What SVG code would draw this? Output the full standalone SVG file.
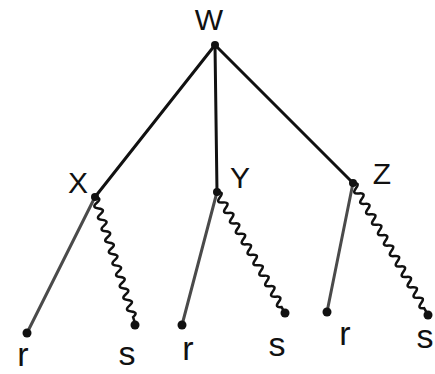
<svg xmlns="http://www.w3.org/2000/svg" width="435" height="374" viewBox="0 0 435 374">
<style>
.edge{stroke:#111;stroke-width:3;fill:none;stroke-linecap:round}
.grey{stroke:#4a4a4a;stroke-width:3;fill:none;stroke-linecap:round}
.wave{stroke:#111;stroke-width:2.5;fill:none;stroke-linecap:round}
.dot{fill:#111}
.lbl{font-family:"Liberation Sans",Arial,sans-serif;font-size:30px;fill:#111;text-anchor:middle;dominant-baseline:central}
.lc{font-size:34px}
</style>
<rect width="435" height="374" fill="#fff"/>
<g id="connectors">
<line class="edge" x1="215" y1="45" x2="95" y2="197"/>
<line class="edge" x1="215" y1="45" x2="217" y2="192"/>
<line class="edge" x1="215" y1="45" x2="353" y2="183"/>
<line class="grey" x1="95" y1="197" x2="27" y2="333"/>
<line class="grey" x1="217" y1="192" x2="182" y2="325"/>
<line class="grey" x1="353" y1="183" x2="327" y2="312"/>
<path class="wave" transform="translate(95,197) rotate(72.4)" d="M0,0 q3,-7 6,0 t6,0 t6,0 t6,0 t6,0 t6,0 t6,0 t6,0 t6,0 t6,0 t6,0 t6,0 t6,0 t6,0 t6,0 t6,0 t6,0 t6,0 t6,0 t6,0 t6,0 l6,0"/>
<path class="wave" transform="translate(217,192) rotate(60.7)" d="M0,0 q3,-7 6,0 t6,0 t6,0 t6,0 t6,0 t6,0 t6,0 t6,0 t6,0 t6,0 t6,0 t6,0 t6,0 t6,0 t6,0 t6,0 t6,0 t6,0 t6,0 t6,0 t6,0 t6,0 l6.8,0"/>
<path class="wave" transform="translate(353,183) rotate(60.4)" d="M0,0 q3,-7 6,0 t6,0 t6,0 t6,0 t6,0 t6,0 t6,0 t6,0 t6,0 t6,0 t6,0 t6,0 t6,0 t6,0 t6,0 t6,0 t6,0 t6,0 t6,0 t6,0 t6,0 t6,0 t6,0 t6,0 l7.8,0"/>
</g>
<g id="W"><circle class="dot" cx="215" cy="45" r="4"/><text class="lbl" x="209" y="19">W</text></g>
<g id="X"><circle class="dot" cx="95" cy="197" r="4"/><text class="lbl" x="78" y="182">X</text></g>
<g id="Y"><circle class="dot" cx="217" cy="192" r="4"/><text class="lbl" x="240" y="177">Y</text></g>
<g id="Z"><circle class="dot" cx="353" cy="183" r="4"/><text class="lbl" x="382" y="173">Z</text></g>
<g id="Xr"><circle class="dot" cx="27" cy="333" r="4.5"/><text class="lbl lc" x="23" y="354">r</text></g>
<g id="Xs"><circle class="dot" cx="135" cy="325" r="4.5"/><text class="lbl lc" x="127" y="353">s</text></g>
<g id="Yr"><circle class="dot" cx="182" cy="325" r="4.5"/><text class="lbl lc" x="188" y="348">r</text></g>
<g id="Ys"><circle class="dot" cx="285" cy="313" r="4.5"/><text class="lbl lc" x="277" y="344">s</text></g>
<g id="Zr"><circle class="dot" cx="327" cy="312" r="4.5"/><text class="lbl lc" x="345" y="333">r</text></g>
<g id="Zs"><circle class="dot" cx="428" cy="315" r="4.5"/><text class="lbl lc" x="425" y="336">s</text></g>
</svg>
